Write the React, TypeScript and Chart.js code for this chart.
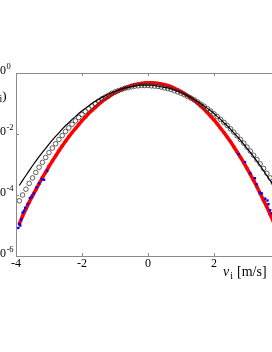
import React, { useEffect, useRef } from 'react';
import { Chart, registerables } from 'chart.js';

Chart.register(...registerables);

// velocity grid (m/s)
const vGrid = [
  -3.9, -3.8, -3.7, -3.6, -3.5, -3.4, -3.3, -3.2, -3.1, -3.0,
  -2.9, -2.8, -2.7, -2.6, -2.5, -2.4, -2.3, -2.2, -2.1, -2.0,
  -1.9, -1.8, -1.7, -1.6, -1.5, -1.4, -1.3, -1.2, -1.1, -1.0,
  -0.9, -0.8, -0.7, -0.6, -0.5, -0.4, -0.3, -0.2, -0.1,
  0.0,
  0.1, 0.2, 0.3, 0.4, 0.5, 0.6, 0.7, 0.8, 0.9,
  1.0, 1.1, 1.2, 1.3, 1.4, 1.5, 1.6, 1.7, 1.8, 1.9,
  2.0, 2.1, 2.2, 2.3, 2.4, 2.5, 2.6, 2.7, 2.8, 2.9,
  3.0, 3.1, 3.2, 3.3, 3.4, 3.5, 3.6, 3.7, 3.8, 3.9,
];

// log10 of the density
const blackLineLog = [
  -3.69, -3.52, -3.36, -3.20, -3.04, -2.89, -2.74, -2.60, -2.47, -2.33,
  -2.20, -2.08, -1.96, -1.84, -1.73, -1.63, -1.52, -1.43, -1.33, -1.24,
  -1.16, -1.08, -1.00, -0.93, -0.87, -0.80, -0.75, -0.69, -0.64, -0.60,
  -0.56, -0.52, -0.49, -0.47, -0.45, -0.43, -0.41, -0.40, -0.40,
  -0.40,
  -0.40, -0.41, -0.43, -0.45, -0.47, -0.49, -0.52, -0.56, -0.60,
  -0.64, -0.69, -0.75, -0.80, -0.87, -0.93, -1.00, -1.08, -1.16, -1.24,
  -1.33, -1.43, -1.52, -1.63, -1.73, -1.84, -1.96, -2.08, -2.20, -2.33,
  -2.47, -2.60, -2.74, -2.89, -3.04, -3.20, -3.36, -3.52, -3.69, -3.86,
];

const circlesLog = [
  -4.19, -4.00, -3.81, -3.62, -3.44, -3.26, -3.09, -2.93, -2.77, -2.61,
  -2.46, -2.32, -2.18, -2.05, -1.92, -1.80, -1.68, -1.57, -1.46, -1.36,
  -1.26, -1.17, -1.08, -1.00, -0.92, -0.85, -0.79, -0.73, -0.67, -0.62,
  -0.58, -0.54, -0.50, -0.48, -0.45, -0.43, -0.42, -0.41, -0.41,
  -0.41,
  -0.42, -0.43, -0.44, -0.46, -0.49, -0.51, -0.54, -0.58, -0.62,
  -0.66, -0.71, -0.77, -0.82, -0.88, -0.95, -1.02, -1.09, -1.17, -1.25,
  -1.34, -1.43, -1.52, -1.62, -1.72, -1.83, -1.94, -2.06, -2.18, -2.30,
  -2.43, -2.56, -2.70, -2.84, -2.98, -3.13, -3.29, -3.44, -3.60, -3.77,
];

const redLog = [
  -4.95, -4.69, -4.46, -4.24, -4.03, -3.83, -3.63, -3.43, -3.25, -3.06,
  -2.89, -2.72, -2.55, -2.39, -2.24, -2.09, -1.95, -1.82, -1.69, -1.56,
  -1.45, -1.33, -1.23, -1.13, -1.03, -0.94, -0.86, -0.79, -0.71, -0.65,
  -0.59, -0.54, -0.49, -0.45, -0.41, -0.38, -0.36, -0.34, -0.33,
  -0.32,
  -0.32, -0.33, -0.34, -0.36, -0.38, -0.41, -0.45, -0.50, -0.55,
  -0.61, -0.67, -0.74, -0.82, -0.90, -0.99, -1.09, -1.19, -1.30, -1.42,
  -1.54, -1.67, -1.81, -1.95, -2.10, -2.25, -2.42, -2.59, -2.76, -2.94,
  -3.13, -3.32, -3.52, -3.73, -3.95, -4.17, -4.39, -4.63, -4.87, -5.11,
];

// blue samples visible in the tails
const blueV = [
  -3.93, -3.9, -3.87, -3.84, -3.8, -3.76, -3.72, -3.65, -3.58, -3.52,
  -3.46, -3.38, -3.3, -3.22, -3.15, -3.05,
  2.75, 2.94, 3.1, 3.24, 3.29, 3.39, 3.45, 3.55, 3.62, 3.65, 3.7, 3.75,
];
const blueLog = [
  -5.08, -4.95, -5.0, -4.8, -4.58, -4.52, -4.42, -4.3, -4.1, -4.05,
  -3.95, -3.75, -3.62, -3.48, -3.5, -3.2,
  -2.66, -2.92, -3.28, -3.45, -3.65, -3.92, -3.95, -4.12, -4.18, -4.3, -4.5, -4.6,
];

const xTicks = [-4, -2, 0, 2, 4];
const xTickLabels = ['-4', '-2', '0', '2', '4'];
const yTicks = [0, -2, -4, -6];
const yTickExps = ['0', '-2', '-4', '-6'];

const SERIF = '"Liberation Serif", "Times New Roman", serif';

const framePlugin = {
  id: 'frameAndLabels',
  afterDraw(chart: any) {
    const { ctx, chartArea: a, scales } = chart;
    const x = scales.x;
    const y = scales.y;
    ctx.save();
    ctx.strokeStyle = '#8a8a8a';
    ctx.lineWidth = 1;
    ctx.strokeRect(a.left + 0.5, a.top + 0.5, a.right - a.left, a.bottom - a.top);
    ctx.beginPath();
    xTicks.forEach((t) => {
      const px = Math.round(x.getPixelForValue(t)) + 0.5;
      ctx.moveTo(px, a.bottom);
      ctx.lineTo(px, a.bottom - 3);
      ctx.moveTo(px, a.top);
      ctx.lineTo(px, a.top + 3);
    });
    yTicks.forEach((t) => {
      const py = Math.round(y.getPixelForValue(t)) + 0.5;
      ctx.moveTo(a.left, py);
      ctx.lineTo(a.left + 3, py);
    });
    ctx.stroke();

    ctx.fillStyle = '#000';
    ctx.textBaseline = 'alphabetic';
    // x tick labels
    ctx.font = `12px ${SERIF}`;
    ctx.textAlign = 'center';
    xTicks.forEach((t, i) => {
      ctx.fillText(xTickLabels[i], x.getPixelForValue(t), a.bottom + 11);
    });
    // y tick labels 10^k
    yTicks.forEach((t, i) => {
      const py = y.getPixelForValue(t);
      ctx.font = `12px ${SERIF}`;
      ctx.textAlign = 'right';
      const baseRight = a.left - 10;
      ctx.fillText('10', baseRight, py + 0.5);
      ctx.font = `8.5px ${SERIF}`;
      ctx.textAlign = 'left';
      ctx.fillText(yTickExps[i], baseRight + 0.5, py - 4.5);
    });
    // x axis title: v_i [m/s]
    ctx.textAlign = 'left';
    let cx = a.left + 207;
    const by = a.bottom + 20;
    ctx.font = `italic 14px ${SERIF}`;
    ctx.fillText('v', cx, by);
    cx += ctx.measureText('v').width + 1;
    ctx.font = `10px ${SERIF}`;
    ctx.fillText('i', cx, by + 3);
    cx += ctx.measureText('i').width + 4;
    ctx.font = `14px ${SERIF}`;
    ctx.fillText('[m/s]', cx, by);

    // y axis title P(v_i), right end near the axis labels
    const ly = 100;
    ctx.textAlign = 'right';
    let rx = a.left - 9.5;
    ctx.font = `13px ${SERIF}`;
    ctx.fillText(')', rx, ly);
    rx -= ctx.measureText(')').width;
    ctx.font = `10px ${SERIF}`;
    ctx.fillText('i', rx, ly + 2);
    rx -= ctx.measureText('i').width;
    ctx.font = `italic 13px ${SERIF}`;
    ctx.fillText('v', rx, ly);
    rx -= ctx.measureText('v').width;
    ctx.font = `13px ${SERIF}`;
    ctx.fillText('P(', rx, ly);
    ctx.restore();
  },
};

function toPoints(xs: number[], ys: number[]) {
  return xs.map((v, i) => ({ x: v, y: ys[i] }));
}

export default function App() {
  const ref = useRef<HTMLCanvasElement | null>(null);
  useEffect(() => {
    if (!ref.current) return;
    const chart = new Chart(ref.current, {
      type: 'scatter',
      data: {
        datasets: [
          {
            label: 'fit',
            data: toPoints(vGrid, blackLineLog),
            showLine: true,
            borderColor: '#000',
            borderWidth: 1.2,
            pointRadius: 0,
            order: 0,
          },
          {
            label: 'circles',
            data: toPoints(vGrid, circlesLog),
            showLine: false,
            pointStyle: 'circle',
            pointRadius: 2.3,
            borderColor: '#3a3a3a',
            backgroundColor: 'rgba(255,255,255,0)',
            borderWidth: 0.8,
            order: 1,
          },
          {
            label: 'blue',
            data: toPoints(blueV, blueLog),
            showLine: false,
            pointStyle: 'rect',
            pointRadius: 1.7,
            borderWidth: 0,
            backgroundColor: '#0000ff',
            borderColor: '#0000ff',
            order: 2,
          },
          {
            label: 'red',
            data: toPoints(vGrid, redLog),
            showLine: true,
            borderColor: '#ff0000',
            borderWidth: 3.5,
            pointRadius: 1.8,
            pointBackgroundColor: '#ff0000',
            pointBorderWidth: 0,
            order: 3,
          },
        ],
      },
      options: {
        animation: false,
        responsive: false,
        maintainAspectRatio: false,
        devicePixelRatio: 1,
        layout: { padding: { left: 56, top: 73, right: 10, bottom: 96 } },
        plugins: { legend: { display: false }, tooltip: { enabled: false } },
        scales: {
          x: { type: 'linear', min: -4, max: 4, display: false },
          y: { type: 'linear', min: -6, max: 0, display: false },
        },
      },
      plugins: [framePlugin],
    });
    return () => chart.destroy();
  }, []);
  return (
    <div
      style={{
        position: 'fixed',
        left: 0,
        top: 0,
        width: 272,
        height: 352,
        overflow: 'hidden',
        background: '#fff',
      }}
    >
      <canvas
        ref={ref}
        width={330}
        height={352}
        style={{ position: 'absolute', left: -40, top: 0, width: 330, height: 352 }}
      />
    </div>
  );
}
